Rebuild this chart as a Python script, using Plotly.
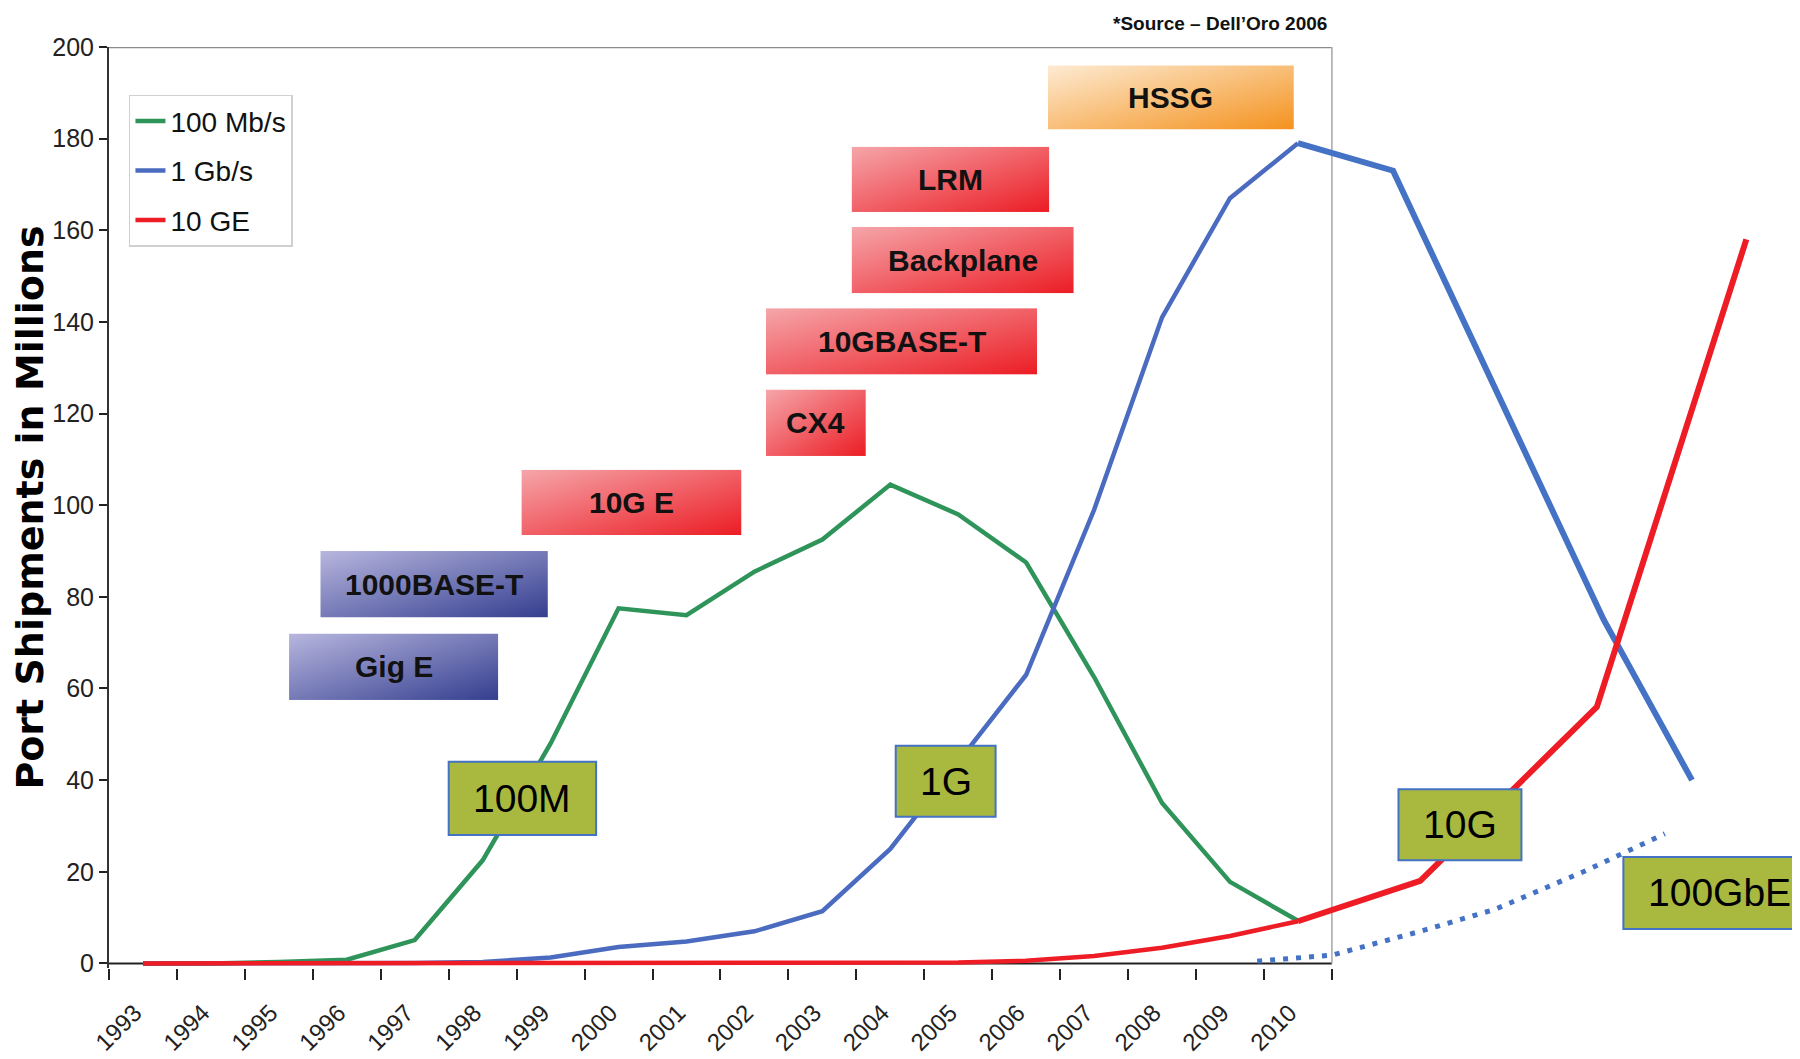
import base64
import plotly.graph_objects as go

# Dell'Oro port shipments (millions), one value per year
years = list(range(1993, 2011))
mb100 = [0, 0, 0.3, 0.8, 5.1, 22.5, 48, 77.5, 76, 85.5, 92.5, 104.5, 98, 87.5, 62.5, 35, 17.8, 9.3]
gb1 = [0, 0, 0, 0, 0.1, 0.3, 1.3, 3.6, 4.8, 7, 11.4, 25, 44, 63, 99, 141, 167, 179]
ge10 = [0, 0, 0, 0, 0, 0, 0, 0, 0, 0, 0, 0, 0.2, 0.6, 1.6, 3.4, 6.0, 9.2]

# hand-drawn projections past 2010
gb1_proj_x = [2010, 2011.4, 2014.5, 2015.8]
gb1_proj_y = [179, 173, 75, 40]
ge10_proj_x = [2010, 2011.8, 2014.4, 2016.6]
ge10_proj_y = [9.2, 18, 56, 158]
gbe100_x = [2009.4, 2010.5, 2011.8, 2012.9, 2014.2, 2015.4]
gbe100_y = [0.5, 1.8, 7, 11.8, 20, 28.3]

y_ticks = list(range(0, 201, 20))

NARROW = "Liberation Sans Narrow, Arial Narrow, Liberation Sans, Arial"
GREEN = "#2F945A"
BLUE = "#4A6BBF"
BLUE2 = "#4472C4"
RED = "#EE1C25"

# standards boxes: label, x0, x1, y0, y1, gradient
std_boxes = [
    ("HSSG", 2006.32, 2009.94, 182, 196, ("#FDEBD3", "#F4921E")),
    ("LRM", 2003.43, 2006.34, 164, 178.25, ("#F5A6AA", "#EC1C24")),
    ("Backplane", 2003.43, 2006.70, 146.25, 160.75, ("#F5A6AA", "#EC1C24")),
    ("10GBASE-T", 2002.17, 2006.16, 128.5, 143, ("#F5A6AA", "#EC1C24")),
    ("CX4", 2002.17, 2003.64, 110.75, 125.25, ("#F5A6AA", "#EC1C24")),
    ("10G E", 1998.57, 2001.81, 93.5, 107.75, ("#F5A6AA", "#EC1C24")),
    ("1000BASE-T", 1995.61, 1998.96, 75.5, 90, ("#B7B6DE", "#343E8F")),
    ("Gig E", 1995.15, 1998.23, 57.5, 72, ("#B7B6DE", "#343E8F")),
]
speed_boxes = [
    ("100M", 1997.5, 1999.67, 28, 44),
    ("1G", 2004.08, 2005.55, 32, 47.5),
    ("10G", 2011.48, 2013.29, 22.5, 38),
    ("100GbE", 2014.79, 2017.6, 7.5, 23.25),
]


def grad_src(c0, c1):
    svg = ("<svg xmlns='http://www.w3.org/2000/svg' width='100' height='100' "
           "viewBox='0 0 100 100' preserveAspectRatio='none'><defs>"
           "<linearGradient id='g' x1='0' y1='0' x2='1' y2='1'>"
           f"<stop offset='0' stop-color='{c0}'/><stop offset='1' stop-color='{c1}'/>"
           "</linearGradient></defs><rect width='100' height='100' fill='url(#g)'/></svg>")
    return "data:image/svg+xml;base64," + base64.b64encode(svg.encode()).decode()


fig = go.Figure()

fig.add_trace(go.Scatter(x=years, y=mb100, name="100 Mb/s", mode="lines",
                         line=dict(color=GREEN, width=4.5), legendgroup="a"))
fig.add_trace(go.Scatter(x=years, y=gb1, name="1 Gb/s", mode="lines",
                         line=dict(color=BLUE, width=4.5), legendgroup="b"))
fig.add_trace(go.Scatter(x=years, y=ge10, name="10 GE", mode="lines",
                         line=dict(color=RED, width=4.5), legendgroup="c"))

fig.add_trace(go.Scatter(x=gb1_proj_x, y=gb1_proj_y, mode="lines", showlegend=False,
                         line=dict(color=BLUE2, width=6)))
fig.add_trace(go.Scatter(x=ge10_proj_x, y=ge10_proj_y, mode="lines", showlegend=False,
                         line=dict(color=RED, width=6)))
fig.add_trace(go.Scatter(x=gbe100_x, y=gbe100_y, mode="lines", showlegend=False,
                         line=dict(color=BLUE2, width=5, dash="5px,8px")))

shapes = [
    dict(type="line", xref="x", yref="y", x0=1992.5, x1=2010.5, y0=0, y1=0,
         line=dict(color="#222", width=2), layer="below"),
    dict(type="line", xref="x", yref="y", x0=1992.5, x1=2010.5, y0=200, y1=200,
         line=dict(color="#8C8C8C", width=2.5), layer="below"),
    dict(type="line", xref="x", yref="y", x0=2010.5, x1=2010.5, y0=0, y1=200,
         line=dict(color="#A6A6A6", width=1.5), layer="below"),
]
images = []
annotations = []

for label, x0, x1, y0, y1, (c0, c1) in std_boxes:
    images.append(dict(source=grad_src(c0, c1), xref="x", yref="y", x=x0, y=y1,
                       sizex=x1 - x0, sizey=y1 - y0, xanchor="left", yanchor="top",
                       sizing="stretch", layer="above"))
    annotations.append(dict(text=label, x=(x0 + x1) / 2, y=(y0 + y1) / 2, xref="x", yref="y",
                            showarrow=False, font=dict(family=NARROW, size=30, color="#111",
                                                       weight="bold")))

for label, x0, x1, y0, y1 in speed_boxes:
    shapes.append(dict(type="rect", xref="x", yref="y", x0=x0, x1=x1, y0=y0, y1=y1,
                       fillcolor="#A9B83F", line=dict(color="#4472C4", width=2), layer="above"))
    cx = (x0 + x1) / 2 if label != "100GbE" else 2016.2
    annotations.append(dict(text=label, x=cx, y=(y0 + y1) / 2, xref="x", yref="y",
                            showarrow=False, font=dict(family="Liberation Sans, Arial",
                                                       size=39, color="#000")))

annotations.append(dict(text="*Source – Dell’Oro 2006", x=2010.45, y=1.026, xref="x", yref="paper",
                        xanchor="right", yanchor="middle", showarrow=False,
                        font=dict(family=NARROW, size=19, color="#111", weight="bold")))

# the page body adds an 8px offset, so the figure is 8px smaller than the window
fig.update_layout(
    width=1792,
    height=1051,
    margin=dict(l=101, r=0, t=39, b=91),
    plot_bgcolor="white",
    paper_bgcolor="white",
    shapes=shapes,
    images=images,
    annotations=annotations,
    legend=dict(
        x=0.0118, y=0.948, xanchor="left", yanchor="top",
        bgcolor="white", bordercolor="#D0D0D0", borderwidth=1.5,
        font=dict(family=NARROW, size=28, color="#111"),
        tracegroupgap=10, itemwidth=30,
    ),
    xaxis=dict(
        range=[1992.5, 2017.39],
        tickmode="array",
        tickvals=[y - 0.12 for y in years],
        ticktext=[str(y) for y in years],
        ticks="",
        tickangle=-45,
        ticklabelstandoff=25,
        tickfont=dict(family=NARROW, size=24, color="#222"),
        showgrid=False,
        zeroline=False,
        showline=False,
        minor=dict(tickmode="array", tickvals=[y - 0.5 for y in years] + [2010.5],
                   ticks="outside", ticklen=11, tickwidth=2, tickcolor="#222", showgrid=False),
    ),
    yaxis=dict(
        range=[-1, 200],
        tickmode="array",
        tickvals=y_ticks,
        ticks="outside",
        ticklen=8,
        tickwidth=2,
        tickcolor="#222",
        showline=True,
        linecolor="#333",
        linewidth=2,
        showgrid=False,
        zeroline=False,
        tickfont=dict(family=NARROW, size=25, color="#222"),
        title=dict(text="Port Shipments in Millions", standoff=8,
                   font=dict(family="DejaVu Sans, Liberation Sans", size=38, color="#000",
                             weight="bold")),
    ),
)

fig.write_html("out.html")
